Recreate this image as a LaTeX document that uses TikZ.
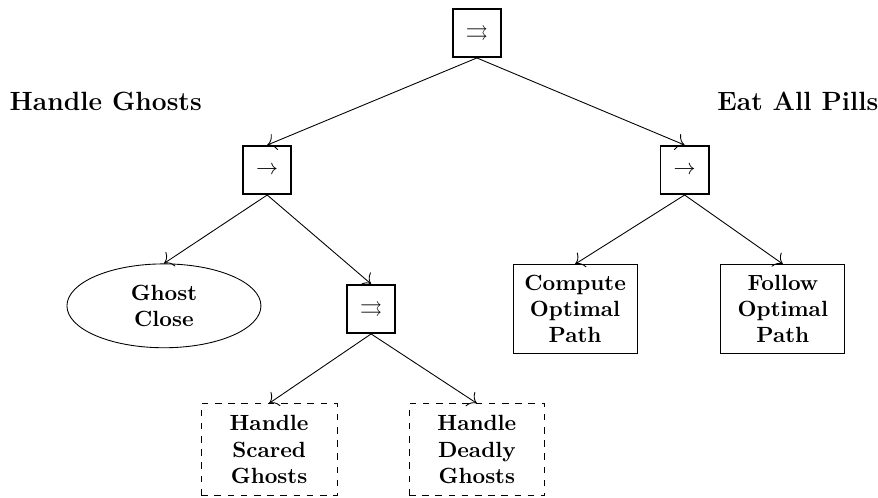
\documentclass[tikz,border=0pt]{standalone}
\usepackage{amsmath}
\usepackage{amssymb}
\usetikzlibrary{positioning}
\usetikzlibrary{shapes.geometric}
\usetikzlibrary{arrows.meta}

\begin{document}
\begin{tikzpicture}[
>={To[scale=1.5]},
ctrl/.style={
draw,
thick,
minimum size=0.77cm,
inner sep=0pt
},
cond/.style={
draw,
ellipse,
minimum width=3.1cm,
minimum height=1.34cm,
align=center,
font=\bfseries
},
act/.style={
draw,
minimum width=1.98cm,
minimum height=1.42cm,
align=center,
font=\bfseries
},
sub/.style={
draw,
dashed,
minimum width=2.17cm,
minimum height=1.47cm,
align=center,
font=\bfseries
},
lbl/.style={
font=\large\bfseries
}
]

\useasboundingbox (-7.62,-7.43) rectangle (6.41,0.527);

\node[ctrl] (root) at (0,0) {$\rightrightarrows$};

\node[ctrl] (seqL) at (-3.35,-2.19) {$\rightarrow$};

\node[ctrl] (seqR) at (3.32,-2.19) {$\rightarrow$};

\node[lbl] (ghosts) at (-5.93,-1.09) {Handle Ghosts};

\node[lbl] (pills) at (5.13,-1.09) {Eat All Pills};

\node[cond] (close) at (-5.0,-4.36) {Ghost\\Close};

\node[ctrl] (par) at (-1.69,-4.41) {$\rightrightarrows$};

\node[act] (compute) at (1.57,-4.41) {Compute\\Optimal\\Path};

\node[act] (follow) at (4.89,-4.41) {Follow\\Optimal\\Path};

\node[sub] (scared) at (-3.32,-6.66) {Handle\\Scared\\Ghosts};

\node[sub] (deadly) at (0,-6.66) {Handle\\Deadly\\Ghosts};

\draw[->] (root.south)--(seqL.north);
\draw[->] (root.south)--(seqR.north);
\draw[->] (seqL.south)--(close.north);
\draw[->] (seqL.south)--(par.north);
\draw[->] (seqR.south)--(compute.north);
\draw[->] (seqR.south)--(follow.north);
\draw[->] (par.south)--(scared.north);
\draw[->] (par.south)--(deadly.north);

\end{tikzpicture}
\end{document}
